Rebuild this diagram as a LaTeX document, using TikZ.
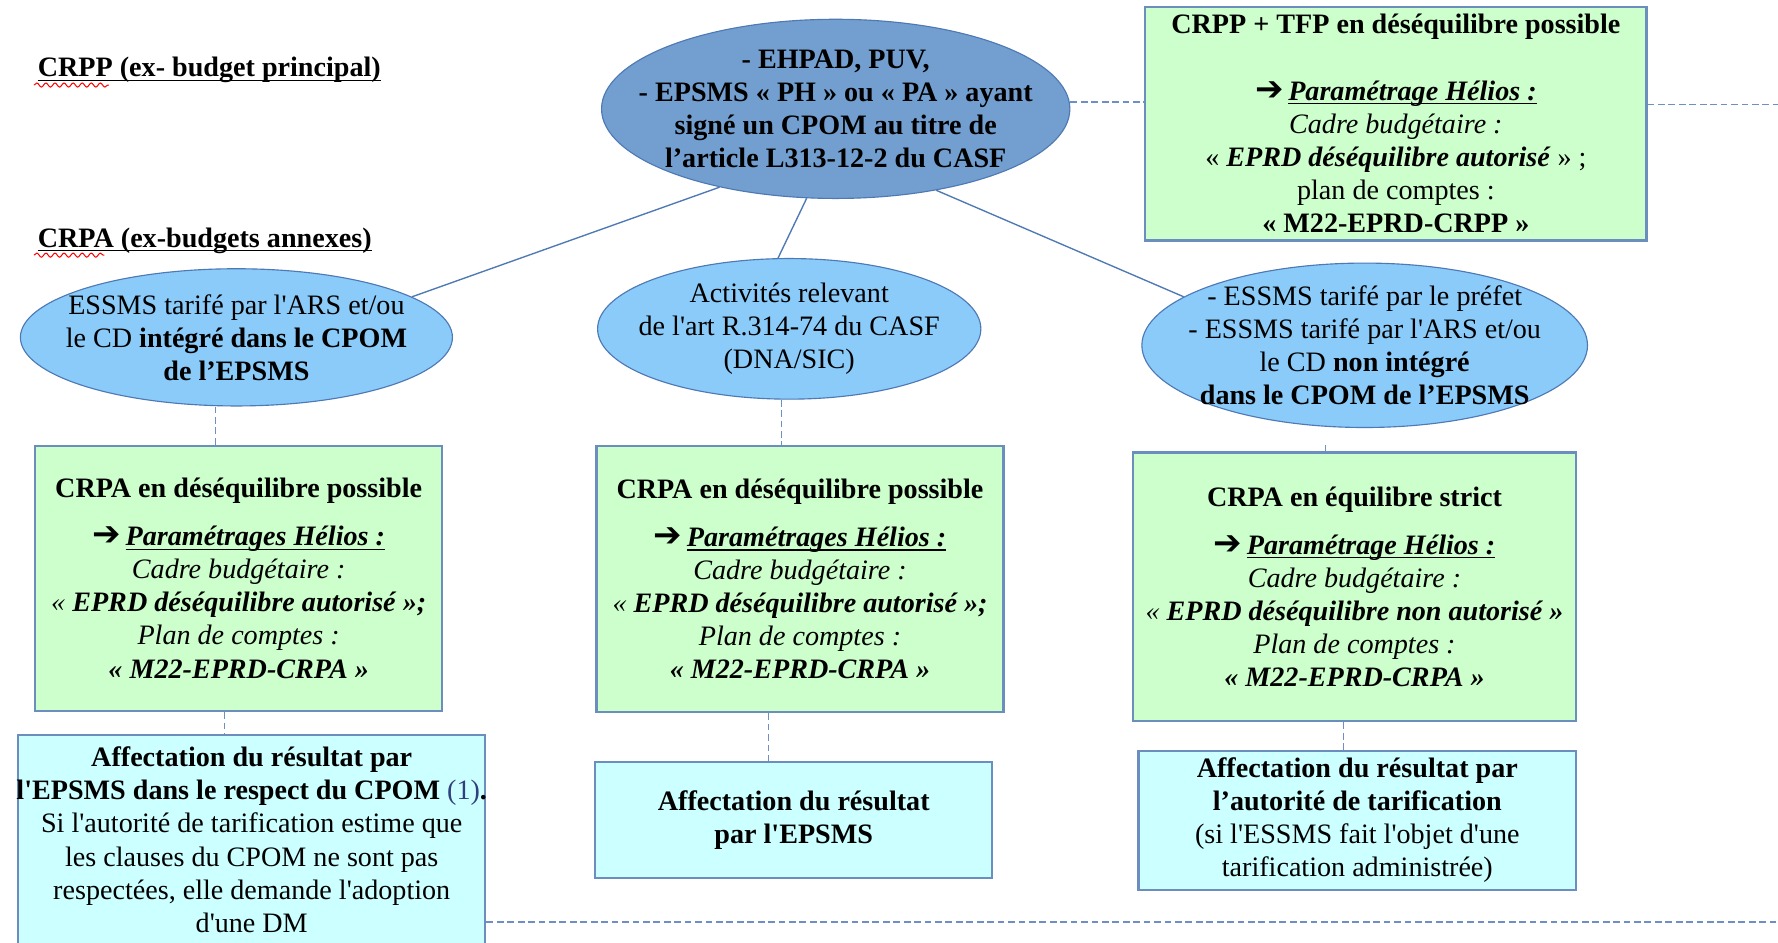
\documentclass[tikz,border=0pt]{standalone}
\usepackage{fontspec}
\setmainfont{Liberation Serif}
\newfontfamily\symfont{DejaVu Sans}
\usepackage{xcolor}
\usepackage{tikz}
\usetikzlibrary{shapes.geometric, decorations.pathmorphing}
\definecolor{ellDark}{HTML}{729FCF}
\definecolor{ellLight}{HTML}{8ACBF9}
\definecolor{ellB}{HTML}{4E79B5}
\definecolor{boxGreen}{HTML}{CCFFCC}
\definecolor{boxCyan}{HTML}{CCFFFF}
\definecolor{boxB}{HTML}{6C8EBF}
\definecolor{lnkCol}{HTML}{4E79B5}
\definecolor{dshCol}{HTML}{6D8FC6}
\definecolor{noteCol}{HTML}{2F3F7F}
\newcommand{\arw}{{\symfont\fontsize{15}{14.6}\selectfont ➔}}
\newcommand{\sq}{\textquotesingle}
\newcommand{\uln}[1]{\setbox0\hbox{#1}\rlap{\vrule height -1.3pt depth 1.9pt width \wd0}\box0}
\newcommand{\helios}[1]{\arw\,\textbf{\textit{\uln{#1}}}}

\begin{document}
\begin{tikzpicture}[x=1pt,y=-1pt,
  txt/.style={font=\fontsize{12.4}{14.6}\selectfont, align=center, text=black},
  ttl/.style={txt, font=\fontsize{12.4}{14.6}\selectfont\bfseries, inner sep=0pt},
  ell/.style={txt, ellipse, draw=ellB, line width=0.5pt, inner xsep=-25pt, inner ysep=-8pt},
  box/.style={txt, rectangle, draw=boxB, line width=1pt, inner sep=0pt},
  lnk/.style={draw=lnkCol, line width=0.6pt},
  dsh/.style={draw=dshCol, line width=0.6pt, dash pattern=on 3pt off 1.6pt},
  squig/.style={red, line width=0.45pt, decorate, decoration={snake, amplitude=0.9pt, segment length=4pt}}]
\useasboundingbox[fill=white] (0,0) rectangle (784,415.5);
\node[ttl, anchor=west] (crpp) at (16.5,31) {\uln{CRPP (ex- budget principal)}};
\node[ttl, anchor=west] (crpa) at (16.5,106) {\uln{CRPA (ex-budgets annexes)}};
\draw[squig] (15,37.5) -- (48,37.5);
\draw[squig] (15,112.5) -- (46,112.5);
\node[ell, fill=ellDark, font=\fontsize{12.4}{14.6}\selectfont\bfseries, minimum width=206.5pt, minimum height=79pt] (main) at (368.5,48) {- EHPAD, PUV,\\- EPSMS «~PH~» ou «~PA~» ayant\\signé un CPOM au titre de\\l’article L313-12-2 du CASF};
\node[box, fill=boxGreen, minimum width=221pt, minimum height=103pt] (tgreen) at (615.5,54.5) {\textbf{CRPP + TFP en déséquilibre possible}\\[14.6pt]\helios{Paramétrage Hélios :}\\\textit{Cadre budgétaire :}\\«~\textbf{\textit{EPRD déséquilibre autorisé}}~» ;\\plan de comptes :\\\textbf{«~M22-EPRD-CRPP~»}};
\node[ell, fill=ellLight, minimum width=190.5pt, minimum height=60.5pt] (lell) at (104.25,148.75) {ESSMS tarifé par l\sq ARS et/ou\\le CD \textbf{intégré dans le CPOM}\\\textbf{de l’EPSMS}};
\node[ell, fill=ellLight, minimum width=169pt, minimum height=62pt] (mell) at (348,145) {Activités relevant\\de l\sq art R.314-74 du CASF\\(DNA/SIC)};
\node[ell, fill=ellLight, minimum width=196.5pt, minimum height=72.5pt] (rell) at (601.75,152.25) {- ESSMS tarifé par le préfet\\- ESSMS tarifé par l\sq ARS et/ou\\le CD \textbf{non intégré}\\\textbf{dans le CPOM de l’EPSMS}};
\node[box, fill=boxGreen, minimum width=179.5pt, minimum height=117pt] (lgreen) at (105.25,255) {\textbf{CRPA en déséquilibre possible}\\[6.5pt]\helios{Paramétrages Hélios :}\\\textit{Cadre budgétaire :}\\\textit{«~\textbf{EPRD déséquilibre autorisé~»;}}\\\textit{Plan de comptes :}\\\textbf{\textit{«~M22-EPRD-CRPA~»}}};
\node[box, fill=boxGreen, minimum width=179.5pt, minimum height=117.5pt] (mgreen) at (352.75,255.25) {\textbf{CRPA en déséquilibre possible}\\[6.5pt]\helios{Paramétrages Hélios :}\\\textit{Cadre budgétaire :}\\\textit{«~\textbf{EPRD déséquilibre autorisé~»;}}\\\textit{Plan de comptes :}\\\textbf{\textit{«~M22-EPRD-CRPA~»}}};
\node[box, fill=boxGreen, minimum width=195.5pt, minimum height=118.5pt] (rgreen) at (597.25,258.75) {\textbf{CRPA en équilibre strict}\\[6.5pt]\helios{Paramétrage Hélios :}\\\textit{Cadre budgétaire :}\\\textit{«~\textbf{EPRD déséquilibre non autorisé~»}}\\\textit{Plan de comptes :}\\\textbf{\textit{«~M22-EPRD-CRPA~»}}};
\node[box, fill=boxCyan, inner xsep=-6pt, minimum width=206pt, minimum height=92.5pt] (lcyan) at (111,370.25) {\textbf{Affectation du résultat par}\\\textbf{l\sq EPSMS dans le respect du CPOM}~{\color{noteCol}(1)}\textbf{.}\\Si l\sq autorité de tarification estime que\\les clauses du CPOM ne sont pas\\respectées, elle demande l\sq adoption\\d\sq une DM};
\node[box, fill=boxCyan, minimum width=175pt, minimum height=51pt] (mcyan) at (350,361.5) {\textbf{Affectation du résultat}\\\textbf{par l\sq EPSMS}};
\node[box, fill=boxCyan, minimum width=193pt, minimum height=61.5pt] (rcyan) at (598.5,361.75) {\textbf{Affectation du résultat par}\\\textbf{l’autorité de tarification}\\(si l\sq ESSMS fait l\sq objet d\sq une\\tarification administrée)};
\coordinate (redge) at (784,46);
\coordinate (bedge) at (784,406.5);
\draw[lnk] (main.214) -- (lell.13);
\draw[lnk] (main.252) -- (mell.99);
\draw[lnk] (main.321) -- (rell.165);
\draw[dsh] ([yshift=3pt]main.east) -- ([yshift=3pt]main.east -| tgreen.west);
\draw[dsh] (tgreen.east |- redge) -- (redge);
\draw[dsh] ([xshift=-9.25pt]lell.south) -- ([xshift=-10.25pt]lgreen.north);
\draw[dsh] ([xshift=-3.5pt]mell.south) -- ([xshift=-8.25pt]mgreen.north);
\draw[dsh] ([xshift=-12.75pt]rgreen.north) -- ++(0,-4);
\draw[dsh] ([xshift=-6.25pt]lgreen.south) -- ([xshift=-12pt]lcyan.north);
\draw[dsh] ([xshift=-13.75pt]mgreen.south) -- ([xshift=-11pt]mcyan.north);
\draw[dsh] ([xshift=-4.75pt]rgreen.south) -- ([xshift=-6pt]rcyan.north);
\draw[dsh] (lcyan.east |- bedge) -- (bedge);
\end{tikzpicture}
\end{document}
